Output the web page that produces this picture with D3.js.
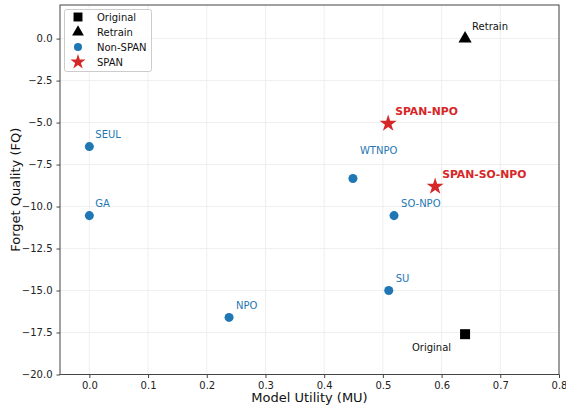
<!DOCTYPE html>
<html><head><meta charset="utf-8">
<script src="https://cdn.jsdelivr.net/npm/d3@7"></script>
<style>body{margin:0;background:#fff}svg{font-family:"DejaVu Sans",sans-serif}</style>
</head><body><svg id="c" width="566" height="407"></svg>
<script>
const names = ["Original","Retrain","SEUL","GA","NPO","WTNPO","SO-NPO","SU","SPAN-NPO","SPAN-SO-NPO"];
const groups = ["Original","Retrain","Non-SPAN","Non-SPAN","Non-SPAN","Non-SPAN","Non-SPAN","Non-SPAN","SPAN","SPAN"];
const mu = [0.64,0.64,0.0,0.0,0.238,0.449,0.519,0.51,0.509,0.589];
const fq = [-17.6,0.0,-6.43,-10.54,-16.6,-8.33,-10.54,-15.0,-5.06,-8.81];
const labelDx = [-14,7,6,6,7,7,7,7,7,7];
const labelDy = [13,-12,-12,-12,-12,-28,-12,-12,-12,-12];
const labelAnchor = ["end","start","start","start","start","start","start","start","start","start"];
const xTicks = [0.0,0.1,0.2,0.3,0.4,0.5,0.6,0.7,0.8];
const yTicks = [0.0,-2.5,-5.0,-7.5,-10.0,-12.5,-15.0,-17.5,-20.0];
const legendItems = ["Original","Retrain","Non-SPAN","SPAN"];

const colors = {"Original":"#000","Retrain":"#000","Non-SPAN":"#1f77b4","SPAN":"#d62728"};
const symbols = {"Original":d3.symbolSquare,"Retrain":d3.symbolTriangle,"Non-SPAN":d3.symbolCircle,"SPAN":d3.symbolStar};
const sizes = {"Original":100,"Retrain":75,"Non-SPAN":64,"SPAN":90};

const svg = d3.select("#c");
const L=60,R=559,T=5,B=374.5;
const x = d3.scaleLinear().domain([-0.05,0.8]).range([L,R]);
const y = d3.scaleLinear().domain([-20,2]).range([B,T]);

// grid
const g = svg.append("g");
g.selectAll(".gx").data(xTicks).join("line").attr("x1",d=>x(d)).attr("x2",d=>x(d)).attr("y1",T).attr("y2",B).attr("stroke","#ebebeb").attr("stroke-width",0.8);
g.selectAll(".gy").data(yTicks).join("line").attr("y1",d=>y(d)).attr("y2",d=>y(d)).attr("x1",L).attr("x2",R).attr("stroke","#ebebeb").attr("stroke-width",0.8);

const fmt = d => d3.format(".1f")(d).replace("-","\u2212");
const xa = svg.append("g").attr("transform",`translate(0,${B})`).call(d3.axisBottom(x).tickValues(xTicks).tickFormat(fmt).tickSize(3.5).tickPadding(4));
const ya = svg.append("g").attr("transform",`translate(${L},0)`).call(d3.axisLeft(y).tickValues(yTicks).tickFormat(fmt).tickSize(3.5).tickPadding(4));
[xa,ya].forEach(a=>{a.select(".domain").remove();a.selectAll("text").attr("font-size",10).attr("fill","#222").attr("font-family","DejaVu Sans");a.selectAll("line").attr("stroke","#444");});

svg.append("rect").attr("x",L).attr("y",T).attr("width",R-L).attr("height",B-T).attr("fill","none").attr("stroke","#444").attr("stroke-width",1);

svg.append("text").attr("x",(L+R)/2).attr("y",402).attr("text-anchor","middle").attr("font-size",13).attr("fill","#111").text("Model Utility (MU)");
svg.append("text").attr("transform",`translate(20,${(T+B)/2}) rotate(-90)`).attr("text-anchor","middle").attr("font-size",13).attr("fill","#111").text("Forget Quality (FQ)");

const idx = d3.range(names.length);
svg.append("g").selectAll("path").data(idx).join("path")
  .attr("transform",i=>`translate(${x(mu[i])},${y(fq[i])})`)
  .attr("d",i=>d3.symbol().type(symbols[groups[i]]).size(sizes[groups[i]])())
  .attr("fill",i=>colors[groups[i]]);

svg.append("g").selectAll("text").data(idx).join("text")
  .attr("x",i=>x(mu[i])+labelDx[i]).attr("y",i=>y(fq[i])+labelDy[i])
  .attr("dy","0.35em").attr("text-anchor",i=>labelAnchor[i])
  .attr("font-size",i=>groups[i]==="SPAN"?10.8:10)
  .attr("font-weight",i=>groups[i]==="SPAN"?"bold":"normal")
  .attr("fill",i=>groups[i]==="SPAN"?"#d62728":(groups[i]==="Non-SPAN"?"#1f77b4":"#111"))
  .text(i=>names[i]);

// legend
const lg = svg.append("g");
lg.append("rect").attr("x",64.5).attr("y",9.5).attr("width",87).attr("height",62).attr("rx",2).attr("fill","#fff").attr("fill-opacity",0.8).attr("stroke","#ccc");
lg.selectAll("path").data(legendItems).join("path")
  .attr("transform",(d,i)=>`translate(78,${17+i*15})`)
  .attr("d",d=>d3.symbol().type(symbols[d]).size(sizes[d]*0.8)())
  .attr("fill",d=>colors[d]);
lg.selectAll("text").data(legendItems).join("text")
  .attr("x",97).attr("y",(d,i)=>17+i*15).attr("dy","0.35em").attr("font-size",10).attr("fill","#111").text(d=>d);
</script></body></html>
